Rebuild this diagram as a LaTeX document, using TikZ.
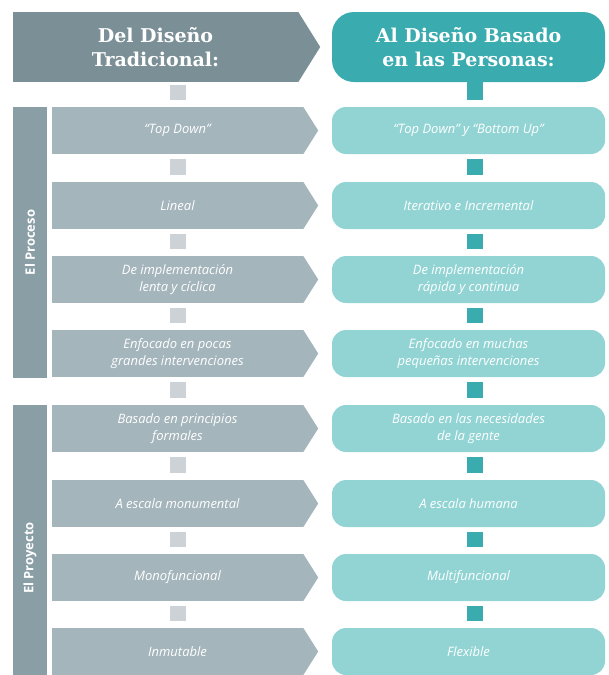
\documentclass[tikz,border=0pt]{standalone}
\usepackage{fontspec}
\setmainfont{Open Sans}
\newfontfamily\headfont{DejaVu Serif}
\usetikzlibrary{calc}
\definecolor{headL}{RGB}{123,143,151}
\definecolor{headR}{RGB}{58,171,174}
\definecolor{rowL}{RGB}{164,181,188}
\definecolor{rowR}{RGB}{146,212,212}
\definecolor{barC}{RGB}{138,158,166}
\definecolor{connLc}{RGB}{204,210,213}
\definecolor{connRc}{RGB}{58,171,174}
\begin{document}
\begin{tikzpicture}[x=1pt,y=-1pt,
  hbox/.style={minimum height=70pt, inner sep=0pt, text=white, align=center,
    font=\headfont\bfseries\fontsize{19}{24}\selectfont},
  hleft/.style={hbox, fill=headL, minimum width=285pt},
  hright/.style={hbox, fill=headR, minimum width=273pt, rounded corners=22pt},
  rowbox/.style={minimum height=47pt, inner sep=0pt, text=white, align=center,
    font=\itshape\fontsize{13}{17}\selectfont},
  lrow/.style={rowbox, fill=rowL, minimum width=251pt},
  rrow/.style={rowbox, fill=rowR, minimum width=273pt, rounded corners=14pt},
  sidebar/.style={fill=barC, minimum width=34pt, inner sep=0pt},
  sidelabel/.style={rotate=90, text=white, font=\bfseries\fontsize{13}{15}\selectfont},
  connL/.style={draw=connLc, line width=16pt, shorten <=5pt, shorten >=7pt},
  connR/.style={draw=connRc, line width=16pt, shorten <=5pt, shorten >=7pt}
]
\useasboundingbox (0,0) rectangle (609,675);

% headers
\node[hleft] (HL) at (155.5,47) {Del Diseño\\Tradicional:};
\fill[headL] (HL.north east) -- ($(HL.east)+(22,0)$) -- (HL.south east) -- cycle;
\node[hright] (HR) at (468.5,47) {Al Diseño Basado\\en las Personas:};

% side bars
\node[sidebar, minimum height=271pt] (B1) at (30,242.5) {};
\node[sidelabel] (T1) at (B1.center) {El Proceso};
\node[sidebar, minimum height=270pt] (B2) at (30,540) {};
\node[sidelabel] (T2) at (30,558) {El Proyecto};

% left rows
\node[lrow] (L1) at (177.5,130.5) {“Top Down”};
\node[lrow] (L2) at (177.5,205.5) {Lineal};
\node[lrow] (L3) at (177.5,279.5) {De implementación\\lenta y cíclica};
\node[lrow] (L4) at (177.5,353.5) {Enfocado en pocas\\grandes intervenciones};
\node[lrow] (L5) at (177.5,428.5) {Basado en principios\\formales};
\node[lrow] (L6) at (177.5,503.5) {A escala monumental};
\node[lrow] (L7) at (177.5,577.5) {Monofuncional};
\node[lrow] (L8) at (177.5,651.5) {Inmutable};
\foreach \n in {L1,L2,L3,L4,L5,L6,L7,L8}{
  \fill[rowL] (\n.north east) -- ($(\n.east)+(15,0)$) -- (\n.south east) -- cycle;
}

% right rows
\node[rrow] (R1) at (468.5,130.5) {“Top Down” y “Bottom Up”};
\node[rrow] (R2) at (468.5,205.5) {Iterativo e Incremental};
\node[rrow] (R3) at (468.5,279.5) {De implementación\\rápida y continua};
\node[rrow] (R4) at (468.5,353.5) {Enfocado en muchas\\pequeñas intervenciones};
\node[rrow] (R5) at (468.5,428.5) {Basado en las necesidades\\de la gente};
\node[rrow] (R6) at (468.5,503.5) {A escala humana};
\node[rrow] (R7) at (468.5,577.5) {Multifuncional};
\node[rrow] (R8) at (468.5,651.5) {Flexible};

% connectors
\coordinate (cl) at (178,0);
\coordinate (cr) at (475,0);
\draw[connL, shorten <=3pt] (HL.south -| cl) -- (L1.north -| cl);
\draw[connR, shorten <=0pt] (HR.south -| cr) -- (R1.north -| cr);
\foreach \a/\b in {1/2,2/3,3/4,4/5,5/6,6/7,7/8}{
  \draw[connL] (L\a.south -| cl) -- (L\b.north -| cl);
  \draw[connR] (R\a.south -| cr) -- (R\b.north -| cr);
}
\end{tikzpicture}
\end{document}
